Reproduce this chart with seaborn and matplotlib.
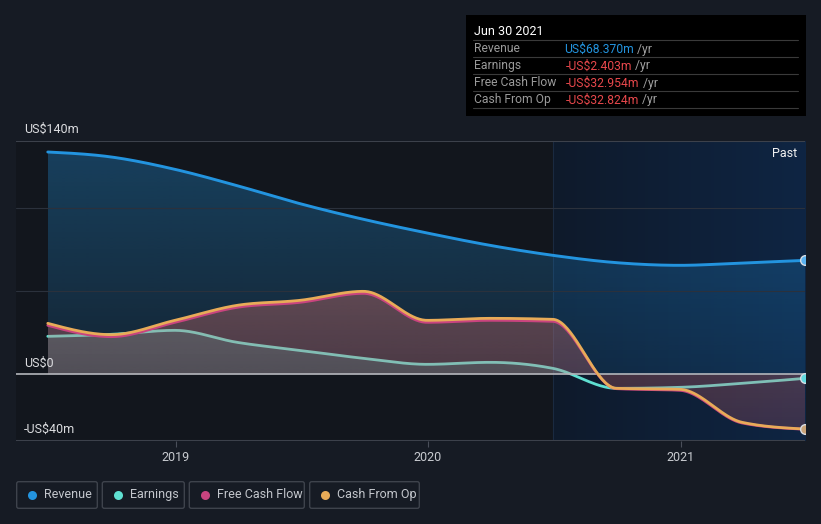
import numpy as np
import pandas as pd
import matplotlib
matplotlib.use("Agg")
import matplotlib.pyplot as plt
import matplotlib.dates as mdates
from matplotlib.patches import Rectangle, FancyBboxPatch
from matplotlib.path import Path
from matplotlib.colors import to_rgb
import seaborn as sns

# quarterly values, US$ millions (trailing twelve months)
quarters = ["2018-06-30", "2018-09-30", "2018-12-31", "2019-03-31", "2019-06-30",
            "2019-09-30", "2019-12-31", "2020-03-31", "2020-06-30", "2020-09-30",
            "2020-12-31", "2021-03-31", "2021-06-30"]
revenue = [133.4, 130.4, 123.0, 113.2, 102.4, 93.0, 84.8, 77.4, 71.4, 67.0, 65.4, 66.8, 68.37]
earnings = [22.8, 24.0, 26.4, 19.2, 14.4, 9.6, 6.0, 7.2, 3.6, -8.4, -7.8, -5.4, -2.403]
free_cash_flow = [29.4, 22.6, 31.2, 40.2, 43.2, 48.6, 31.2, 32.4, 31.8, -8.6, -9.6, -29.2, -32.954]
cash_from_op = [30.6, 23.8, 32.4, 41.4, 44.4, 49.8, 32.4, 33.6, 33.0, -8.4, -9.0, -28.8, -32.824]

series_names = ["Revenue", "Earnings", "Free Cash Flow", "Cash From Op"]
tooltip_date = "Jun 30 2021"
tooltip_values = ["US$68.370m", "-US$2.403m", "-US$32.954m", "-US$32.824m"]
year_ticks = ["2019-01-01", "2020-01-01", "2021-01-01"]
year_labels = ["2019", "2020", "2021"]
y_labels = [(140, "US$140m"), (0, "US$0"), (-40, "-US$40m")]
grid_vals = [50, 100]
past_start = "2020-06-30"
x_left = "2018-05-15"

BG = "#161b24"
PLOT_BG = "#12161d"
C_REV = "#2394df"
C_EARN = "#5fe0d2"
C_FCF = "#c9447f"
C_CFO = "#e8ab58"
YMIN, YMAX = -40, 140

sns.set_theme(style="dark", rc={"figure.facecolor": BG, "axes.facecolor": PLOT_BG})
plt.rcParams["font.family"] = ["Roboto", "DejaVu Sans"]


def monotone(x, y, n=40):
    # monotone cubic curve through the points (like d3 curveMonotoneX)
    x = np.asarray(x, float)
    y = np.asarray(y, float)
    h = np.diff(x)
    s = np.diff(y) / h
    m = np.zeros_like(y)
    for i in range(1, len(y) - 1):
        p = (s[i - 1] * h[i] + s[i] * h[i - 1]) / (h[i - 1] + h[i])
        m[i] = (np.sign(s[i - 1]) + np.sign(s[i])) * min(abs(s[i - 1]), abs(s[i]), 0.5 * abs(p))
    m[0] = (3 * s[0] - m[1]) / 2
    m[-1] = (3 * s[-1] - m[-2]) / 2
    xs, ys = [], []
    for i in range(len(h)):
        t = np.linspace(0, 1, n, endpoint=(i == len(h) - 1))
        h00 = 2 * t**3 - 3 * t**2 + 1
        h10 = t**3 - 2 * t**2 + t
        h01 = -2 * t**3 + 3 * t**2
        h11 = t**3 - t**2
        xs.append(x[i] + t * h[i])
        ys.append(h00 * y[i] + h10 * h[i] * m[i] + h01 * y[i + 1] + h11 * h[i] * m[i + 1])
    return np.concatenate(xs), np.concatenate(ys)


def gradient_fill(ax, x, y, color, a_top, a_bot, zorder):
    poly = ax.fill_between(x, y, 0, facecolor="none", edgecolor="none")
    clip = Path.make_compound_path(*poly.get_paths())
    img = np.zeros((200, 1, 4))
    img[..., :3] = to_rgb(color)
    img[..., 3] = np.linspace(a_top, a_bot, 200)[:, None]
    im = ax.imshow(img, aspect="auto", extent=[x[0], x[-1], YMIN, YMAX],
                   origin="upper", zorder=zorder, interpolation="bilinear")
    im.set_clip_path(clip, ax.transData)


xq = mdates.date2num(pd.to_datetime(quarters))
x_end = xq[-1]
x_past = mdates.date2num(pd.Timestamp(past_start))
x_start = mdates.date2num(pd.Timestamp(x_left))

fig = plt.figure(figsize=(8.21, 5.24), dpi=100)
ax = fig.add_axes([16 / 821, 1 - 441 / 524, 789 / 821, 300 / 524])

# past region background
past = np.zeros((1, 100, 3))
past[..., :] = np.linspace(to_rgb("#0f1a2b"), to_rgb("#0e2543"), 100)[None, :, :]
ax.imshow(past, aspect="auto", extent=[x_past, x_end, YMIN, YMAX], zorder=0.5)
ax.axvline(x_past, color="#1a2a40", lw=0.8, zorder=0.6)

curves = {}
for name, vals in zip(series_names, [revenue, earnings, free_cash_flow, cash_from_op]):
    curves[name] = monotone(xq, vals)

xs, ys = curves["Revenue"]
gradient_fill(ax, xs, ys, C_REV, 0.34, 0.06, 1)
for g in grid_vals:
    ax.axhline(g, color="#2b313c", lw=0.8, zorder=1.5)

xs, ys = curves["Earnings"]
sns.lineplot(x=xs, y=ys, ax=ax, color=C_EARN, lw=2.0, estimator=None, sort=False, zorder=3)

xs, ys = curves["Free Cash Flow"]
gradient_fill(ax, xs, ys, C_FCF, 0.34, 0.16, 4)
xs, ys = curves["Cash From Op"]
gradient_fill(ax, xs, ys, C_CFO, 0.30, 0.06, 4.1)

# earnings area sits on top of the cash-flow areas (greyish tint)
xs, ys = curves["Earnings"]
gradient_fill(ax, xs, np.clip(ys, 0, None), "#7ad8cc", 0.22, 0.12, 4.2)

xs, ys = curves["Revenue"]
sns.lineplot(x=xs, y=ys, ax=ax, color=C_REV, lw=2.1, estimator=None, sort=False, zorder=5)
xs, ys = curves["Free Cash Flow"]
sns.lineplot(x=xs, y=ys, ax=ax, color=C_FCF, lw=2.0, estimator=None, sort=False, zorder=5.1)
xs, ys = curves["Cash From Op"]
sns.lineplot(x=xs, y=ys, ax=ax, color=C_CFO, lw=2.0, estimator=None, sort=False, zorder=5.2)

ax.axhline(0, color="#b4b6bb", lw=1.2, zorder=4.5)
ax.axhline(YMAX, color="#3c414b", lw=1.5, zorder=6)
ax.axhline(YMIN, color="#3c414b", lw=1.5, zorder=6)

# end dots
for vals, col in [(revenue, "#5ab2f0"), (earnings, "#62dae0"), (cash_from_op, "#c9a378")]:
    ax.plot([x_end], [vals[-1]], "o", ms=7, mfc=col, mec="#d8dde4", mew=1.0, zorder=7)

ax.set_xlim(x_start, x_end)
ax.set_ylim(YMIN, YMAX)
ax.set_xticks(mdates.date2num(pd.to_datetime(year_ticks)))
ax.set_xticklabels(year_labels)
ax.set_yticks([])
ax.tick_params(axis="x", length=4, width=0.8, color="#4a4f5a", labelcolor="#c8cbd0",
               labelsize=9, pad=3, bottom=True)
ax.grid(False)
for sp in ax.spines.values():
    sp.set_visible(False)
ax.set_xlabel("")
ax.set_ylabel("")

# overlay in pixel coordinates for labels, tooltip and legend
ov = fig.add_axes([0, 0, 1, 1], zorder=10)
ov.set_xlim(0, 821)
ov.set_ylim(524, 0)
ov.axis("off")
ov.patch.set_alpha(0)

for val, lab in y_labels:
    ypix = 441 - (val - YMIN) * 300 / (YMAX - YMIN)
    ov.text(24, ypix - 8, lab, color="#dcdde0", fontsize=9, va="baseline", ha="left")
ov.text(797, 157, "Past", color="#f0f0f0", fontsize=9, va="baseline", ha="right")

# tooltip
ov.add_patch(Rectangle((466, 15), 340, 101, facecolor="#000000", edgecolor="none"))
ov.text(474, 35, tooltip_date, color="#ffffff", fontsize=9, va="baseline")
for i, (name, val) in enumerate(zip(series_names, tooltip_values)):
    ysep = 40 + 17 * i
    ov.plot([473, 798], [ysep, ysep], color="#3a3a3a", lw=0.8)
    yb = ysep + 12.5
    ov.text(474, yb, name, color="#9a9a9a", fontsize=8.7, va="baseline")
    vcol = C_REV if not val.startswith("-") else "#e8484c"
    xv = 564 if not val.startswith("-") else 566
    t = ov.text(xv, yb, val, color=vcol, fontsize=8.7, va="baseline")
    ov.annotate(" /yr", xy=(1, 0), xycoords=t, color="#a0a0a0", fontsize=8.7, va="bottom")
ov.plot([473, 798], [108, 108], color="#3a3a3a", lw=0.8)

# legend
boxes = [(16.7, 80.6), (102.3, 82), (189.3, 115), (309.7, 109.6)]
for (bx, bw), name, col in zip(boxes, series_names, [C_REV, C_EARN, C_FCF, C_CFO]):
    ov.add_patch(FancyBboxPatch((bx, 481.7), bw, 26.6, boxstyle="round,pad=0,rounding_size=2",
                                facecolor="none", edgecolor="#3e434c", lw=1.0))
    ov.plot([bx + 15.5], [494.5], "o", ms=6.5, color=col, mec="none")
    ov.text(bx + 27.5, 494.5, name, color="#c3c6cc", fontsize=9, va="center")

fig.savefig("out.png", dpi=100, facecolor=BG)
